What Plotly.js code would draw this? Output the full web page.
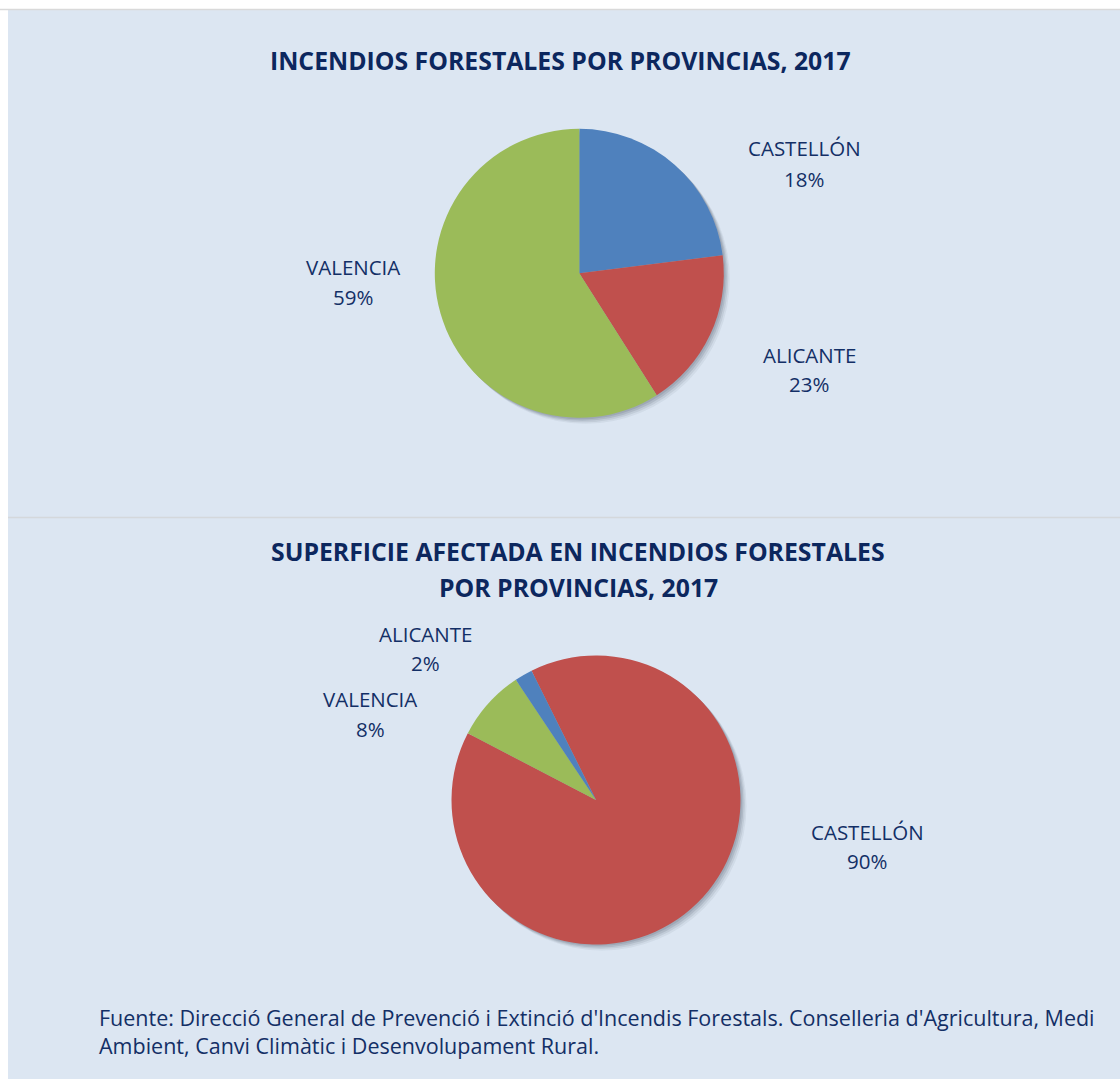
<!DOCTYPE html>
<html>
<head>
<meta charset="utf-8">
<script src="https://cdn.plot.ly/plotly-3.0.1.min.js"></script>
<style>
  html, body { margin: 0; padding: 0; background: #ffffff; }
  #chart { width: 1120px; height: 1079px; }
</style>
</head>
<body>
<div id="chart"></div>
<script>
// ---- Data ----
const titulo1 = 'INCENDIOS FORESTALES POR PROVINCIAS, 2017';
const provincias1 = ['ALICANTE', 'CASTELLÓN', 'VALENCIA'];
const incendiosPct = [23, 18, 59];

const titulo2 = ['SUPERFICIE AFECTADA EN INCENDIOS FORESTALES', 'POR PROVINCIAS, 2017'];
const provincias2 = ['CASTELLÓN', 'VALENCIA', 'ALICANTE'];
const superficiePct = [90, 8, 2];

const fuente = [
  "Fuente: Direcció General de Prevenció i Extinció d'Incendis Forestals. Conselleria d'Agricultura, Medi",
  "Ambient, Canvi Climàtic i Desenvolupament Rural."
];

// ---- Styles ----
const W = 1120, H = 1079;
const colorProv = { 'ALICANTE': '#4f81bd', 'CASTELLÓN': '#c0504d', 'VALENCIA': '#9bbb59' };
const navyTitle = '#0c275e';
const navyText = '#132f66';
const FONT = 'Open Sans, sans-serif';
const TITLE_SIZE = 24.8, LABEL_SIZE = 20.5, SOURCE_SIZE = 21.5;

// pie geometry in pixels (center, radius)
const pie1 = { cx: 579.3, cy: 273.3, r: 144.5, rot: 0 };
const pie2 = { cx: 596, cy: 800, r: 144.5, rot: -26.5 };

// label placements in pixels (x, name line center, percent line center), by province
const labelPos1 = {
  'CASTELLÓN': [804, 148, 179],
  'ALICANTE': [809, 355, 384],
  'VALENCIA': [353, 267, 297]
};
const labelPos2 = {
  'ALICANTE': [425, 634, 663],
  'VALENCIA': [370, 699, 729],
  'CASTELLÓN': [867, 832, 861]
};

function domainOf(p, dx, dy) {
  dx = dx || 0; dy = dy || 0;
  return {
    x: [(p.cx - p.r + dx) / W, (p.cx + p.r + dx) / W],
    y: [1 - (p.cy + p.r + dy) / H, 1 - (p.cy - p.r + dy) / H]
  };
}

function shadowTraces(p) {
  const layers = [[1.5, 1.5, 0.12], [3, 3, 0.12], [4.5, 4.5, 0.09], [6, 6, 0.06]];
  return layers.map(l => ({
    type: 'pie', values: [1], labels: ['s'],
    marker: { colors: ['rgba(40,50,70,' + l[2] + ')'], line: { width: 0 } },
    domain: domainOf(p, l[0], l[1]),
    textinfo: 'none', hoverinfo: 'skip', sort: false, showlegend: false
  }));
}

function pieTrace(p, labels, values) {
  return {
    type: 'pie', labels: labels, values: values,
    marker: { colors: labels.map(l => colorProv[l]), line: { width: 0 } },
    domain: domainOf(p), rotation: p.rot, direction: 'clockwise', sort: false,
    textinfo: 'none', hoverinfo: 'label+percent', showlegend: false
  };
}

const data = [].concat(
  shadowTraces(pie1), [pieTrace(pie1, provincias1, incendiosPct)],
  shadowTraces(pie2), [pieTrace(pie2, provincias2, superficiePct)]
);

function ann(text, px, py, size, opts) {
  return Object.assign({
    text: text, xref: 'paper', yref: 'paper', x: px / W, y: 1 - py / H,
    xanchor: 'center', yanchor: 'middle', showarrow: false,
    font: { family: FONT, size: size, color: navyText }
  }, opts || {});
}

const titleFont = { family: FONT, size: TITLE_SIZE, color: navyTitle };
const annotations = [];
annotations.push(ann('<b>' + titulo1 + '</b>', 560, 60, TITLE_SIZE, { font: titleFont }));
annotations.push(ann('<b>' + titulo2[0] + '</b>', 578, 551, TITLE_SIZE, { font: titleFont }));
annotations.push(ann('<b>' + titulo2[1] + '</b>', 578, 587, TITLE_SIZE, { font: titleFont }));

provincias1.forEach((prov, i) => {
  const lp = labelPos1[prov];
  annotations.push(ann(prov, lp[0], lp[1], LABEL_SIZE));
  annotations.push(ann(incendiosPct[i] + '%', lp[0], lp[2], LABEL_SIZE));
});
provincias2.forEach((prov, i) => {
  const lp = labelPos2[prov];
  annotations.push(ann(prov, lp[0], lp[1], LABEL_SIZE));
  annotations.push(ann(superficiePct[i] + '%', lp[0], lp[2], LABEL_SIZE));
});

annotations.push(ann(fuente[0], 97, 1017, SOURCE_SIZE, { xanchor: 'left' }));
annotations.push(ann(fuente[1], 97, 1045, SOURCE_SIZE, { xanchor: 'left' }));

const shapes = [
  // white outer strips
  { type: 'rect', xref: 'paper', yref: 'paper', x0: 0, x1: 1, y0: 1 - 9 / H, y1: 1, fillcolor: '#ffffff', line: { width: 0 }, layer: 'below' },
  { type: 'rect', xref: 'paper', yref: 'paper', x0: 0, x1: 8 / W, y0: 0, y1: 1, fillcolor: '#ffffff', line: { width: 0 }, layer: 'below' },
  // top border and separator lines
  { type: 'line', xref: 'paper', yref: 'paper', x0: 0, x1: 1, y0: 1 - 9.5 / H, y1: 1 - 9.5 / H, line: { color: '#d9d9d9', width: 1.5 }, layer: 'below' },
  { type: 'line', xref: 'paper', yref: 'paper', x0: 8 / W, x1: 1, y0: 1 - 517.5 / H, y1: 1 - 517.5 / H, line: { color: '#d4d8dc', width: 1.5 }, layer: 'below' }
];

const layout = {
  width: W, height: H,
  margin: { l: 0, r: 0, t: 0, b: 0 },
  paper_bgcolor: '#dce6f2',
  plot_bgcolor: '#dce6f2',
  showlegend: false,
  annotations: annotations,
  shapes: shapes,
  font: { family: FONT }
};

Plotly.newPlot('chart', data, layout, { displayModeBar: false, staticPlot: true });
</script>
</body>
</html>
